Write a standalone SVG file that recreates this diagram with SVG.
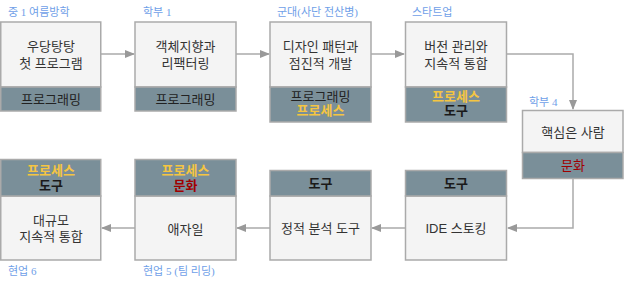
<svg xmlns="http://www.w3.org/2000/svg" width="624" height="284" viewBox="0 0 624 284">
<style>
.box{fill:#f4f4f4;stroke:#aaaaaa;stroke-width:1.5}
.band{fill:#7a8f99;stroke:#aaaaaa;stroke-width:1.5}
.t{font-family:"Liberation Sans","Noto Sans CJK KR",sans-serif;font-size:13px;fill:#333;text-anchor:middle}
.b{fill:#222}
.bold{font-weight:bold;fill:#1a1a1a}
.y{fill:#f5c542;font-weight:bold}
.r{fill:#a00000}
.lab{font-family:"Liberation Serif","Noto Sans CJK KR",serif;font-size:11px;fill:#6fa0e8}
.c{fill:none;stroke:#aaaaaa;stroke-width:1.5}
</style>
<defs>
<marker id="ah" markerWidth="10" markerHeight="8" refX="9" refY="4" orient="auto" markerUnits="userSpaceOnUse">
<path d="M0,0 L10,4 L0,8 Z" fill="#999"/>
</marker>
</defs>
<g id="connectors">
<path class="c" d="M101,54 L134,54" marker-end="url(#ah)"/>
<path class="c" d="M236,54 L269,54" marker-end="url(#ah)"/>
<path class="c" d="M371,54 L404,54" marker-end="url(#ah)"/>
<path class="c" d="M507,54 L573,54 L573,109" marker-end="url(#ah)"/>
<path class="c" d="M573,179 L573,228 L508,228" marker-end="url(#ah)"/>
<path class="c" d="M405,228 L372,228" marker-end="url(#ah)"/>
<path class="c" d="M270,228 L237,228" marker-end="url(#ah)"/>
<path class="c" d="M135,228 L102,228" marker-end="url(#ah)"/>
</g>
<g id="n1">
<rect class="box" x="0.75" y="22" width="100" height="65"/>
<rect class="band" x="0.75" y="87" width="100" height="24"/>
<text class="t" x="51" y="51">우당탕탕</text>
<text class="t" x="51" y="68">첫 프로그램</text>
<text class="t b" x="51" y="104">프로그래밍</text>
<text class="lab" x="8" y="16">중 1 여름방학</text>
</g>
<g id="n2">
<rect class="box" x="135" y="22" width="101" height="65"/>
<rect class="band" x="135" y="87" width="101" height="24"/>
<text class="t" x="185.5" y="51">객체지향과</text>
<text class="t" x="185.5" y="68">리팩터링</text>
<text class="t b" x="185.5" y="104">프로그래밍</text>
<text class="lab" x="143" y="16">학부 1</text>
</g>
<g id="n3">
<rect class="box" x="270" y="22" width="101" height="65"/>
<rect class="band" x="270" y="87" width="101" height="35"/>
<text class="t" x="320.5" y="51">디자인 패턴과</text>
<text class="t" x="320.5" y="68">점진적 개발</text>
<text class="t b" x="320.5" y="101">프로그래밍</text>
<text class="t y" x="320.5" y="115">프로세스</text>
<text class="lab" x="277" y="16">군대(사단 전산병)</text>
</g>
<g id="n4">
<rect class="box" x="405.5" y="22" width="101" height="65"/>
<rect class="band" x="405.5" y="87" width="101" height="35"/>
<text class="t" x="456" y="51">버전 관리와</text>
<text class="t" x="456" y="68">지속적 통합</text>
<text class="t y" x="456" y="101">프로세스</text>
<text class="t bold" x="456" y="115">도구</text>
<text class="lab" x="412" y="16">스타트업</text>
</g>
<g id="n5">
<rect class="box" x="522.5" y="110.5" width="100.5" height="42"/>
<rect class="band" x="522.5" y="152.5" width="100.5" height="26"/>
<text class="t" x="573" y="137">핵심은 사람</text>
<text class="t r" x="573" y="170">문화</text>
<text class="lab" x="529" y="106">학부 4</text>
</g>
<g id="n6">
<rect class="box" x="405.5" y="196" width="101" height="64"/>
<rect class="band" x="405.5" y="170.5" width="101" height="25.5"/>
<text class="t bold" x="456" y="188">도구</text>
<text class="t" x="456" y="233">IDE 스토킹</text>
</g>
<g id="n7">
<rect class="box" x="270" y="196" width="101" height="64"/>
<rect class="band" x="270" y="170.5" width="101" height="25.5"/>
<text class="t bold" x="320.5" y="188">도구</text>
<text class="t" x="320.5" y="233">정적 분석 도구</text>
</g>
<g id="n8">
<rect class="box" x="135" y="196" width="101" height="64"/>
<rect class="band" x="135" y="159.5" width="101" height="36.5"/>
<text class="t y" x="185.5" y="175">프로세스</text>
<text class="t r bold" x="185.5" y="190">문화</text>
<text class="t" x="185.5" y="234">애자일</text>
<text class="lab" x="143" y="275">현업 5 (팀 리딩)</text>
</g>
<g id="n9">
<rect class="box" x="0.75" y="196" width="100" height="64"/>
<rect class="band" x="0.75" y="159.5" width="100" height="36.5"/>
<text class="t y" x="51" y="175">프로세스</text>
<text class="t bold" x="51" y="190">도구</text>
<text class="t" x="51" y="225">대규모</text>
<text class="t" x="51" y="241">지속적 통합</text>
<text class="lab" x="8" y="275">현업 6</text>
</g>
</svg>
